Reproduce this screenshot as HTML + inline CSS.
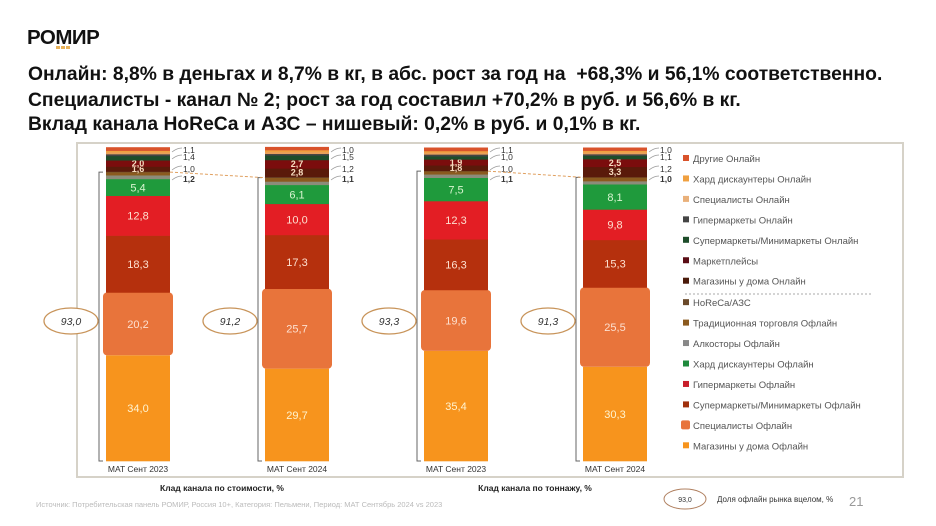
<!DOCTYPE html>
<html><head><meta charset="utf-8"><style>
body{margin:0;width:936px;height:526px;background:#fff;overflow:hidden;font-family:"Liberation Sans",sans-serif;position:relative}
.t{position:absolute;left:28px;font-weight:bold;font-size:19.3px;color:#111;white-space:nowrap}
</style></head><body>
<div style="position:absolute;left:27px;top:26px;font-weight:900;font-size:20.5px;letter-spacing:-0.5px;color:#111">РОМИР</div>
<div style="position:absolute;left:56px;top:46px;width:14px;height:3px;background:repeating-linear-gradient(90deg,#e8b25a 0 4px,transparent 4px 5px)"></div>
<div class="t" style="top:64px">Онлайн: 8,8% в деньгах и 8,7% в кг, в абс. рост за год на&nbsp; +68,3% и 56,1% соответственно.</div>
<div class="t" style="top:90px">Специалисты - канал № 2; рост за год составил +70,2% в руб. и 56,6% в кг.</div>
<div class="t" style="top:114px">Вклад канала HoReCa и АЗС – нишевый: 0,2% в руб. и 0,1% в кг.</div>
<svg id="s" width="936" height="526" style="position:absolute;left:0;top:0" font-family="Liberation Sans, sans-serif"></svg>
<script>
const S=document.getElementById('s');let h='';
h+='<rect x="77" y="143" width="826" height="334" fill="none" stroke="#d6d2c8" stroke-width="2"/>';
const cols=['#f7941d','#e8743b','#b5300d','#e31e24','#1f9a3c','#8c8c7a','#8b5a1e','#6b4a2a','#5a1a0a','#7b0d0d','#1d4d2a','#444','#e9a05a','#f0a040','#d9532b'];
const bars=[
{x:106,v:[34.0,20.2,18.3,12.8,5.4,1.2,1.0,0.2,1.6,2.0,1.4,0.6,0.6,0.5,1.1],off:'93,0',lab:['1,1','1,4','1,0','1,2'],yr:'2023'},
{x:265,v:[29.7,25.7,17.3,10.0,6.1,1.1,1.2,0.2,2.8,2.7,1.5,0.5,0.6,0.6,1.0],off:'91,2',lab:['1,0','1,5','1,2','1,1'],yr:'2024'},
{x:424,v:[35.4,19.6,16.3,12.3,7.5,1.1,1.0,0.1,1.8,1.9,1.0,0.6,0.6,0.5,1.1],off:'93,3',lab:['1,1','1,0','1,0','1,1'],yr:'2023'},
{x:583,v:[30.3,25.5,15.3,9.8,8.1,1.0,1.2,0.1,3.3,2.5,1.1,0.5,0.6,0.5,1.0],off:'91,3',lab:['1,0','1,1','1,2','1,0'],yr:'2024'}];
const k=3.11,B=461,W=64;
let offTops=[];
bars.forEach((b,bi)=>{let y=B;let tops=[];
 b.v.forEach((v,i)=>{const hh=v*k;y-=hh;tops.push(y);
  if(i==1)h+=`<rect x="${b.x-3}" y="${y}" width="${W+6}" height="${hh}" rx="4" fill="${cols[i]}"/>`;
  else h+=`<rect x="${b.x}" y="${y}" width="${W}" height="${hh+0.3}" fill="${cols[i]}"/>`;
  if(i<5){const tc=i==0?'#fff3d0':'#fde0d0';h+=`<text x="${b.x+W/2}" y="${y+hh/2+4}" font-size="11" fill="${i==4?'#d8f5d0':tc}" text-anchor="middle">${v.toFixed(1).replace('.',',')}</text>`;}
  if(i==8||i==9)h+=`<text x="${b.x+W/2}" y="${y+hh/2+3}" font-size="9" font-weight="bold" fill="#f7dcc0" text-anchor="middle">${v.toFixed(1).replace('.',',')}</text>`;
 });
 offTops.push(tops[6]);
 const ly=[152,159,171,181];
 b.lab.forEach((l,j)=>{h+=`<path d="M${b.x+W+2} ${ly[j]+ (j<2?0:-1)} q5 -4 ${10} -4" stroke="#999" fill="none" stroke-width="0.7"/><text x="${b.x+W+13}" y="${ly[j]+1}" font-size="8.5" ${j==3?'font-weight="bold"':''} fill="#333">${l}</text>`});
 h+=`<path d="M${b.x-3} ${tops[6]} h-4 V${B} h4" stroke="#666" fill="none" stroke-width="1"/>`;
 h+=`<ellipse cx="${b.x-35}" cy="321" rx="27" ry="13" fill="#fff" stroke="#c8945a" stroke-width="1.3"/><text x="${b.x-35}" y="325" font-size="10.5" fill="#333" text-anchor="middle" font-style="italic">${b.off}</text>`;
 h+=`<text x="${b.x+W/2}" y="472" font-size="8.5" fill="#333" text-anchor="middle">MAT Сент ${b.yr}</text>`;
});
h+=`<line x1="170" y1="${offTops[0]}" x2="265" y2="${offTops[1]}" stroke="#e0a060" stroke-dasharray="3,2"/>`;
h+=`<line x1="488" y1="${offTops[2]}" x2="583" y2="${offTops[3]}" stroke="#e0a060" stroke-dasharray="3,2"/>`;
const L=[['Другие Онлайн','#d9532b'],['Хард дискаунтеры Онлайн','#f0a040'],['Специалисты Онлайн','#e9b07a'],['Гипермаркеты Онлайн','#444'],['Супермаркеты/Минимаркеты Онлайн','#1d4d2a'],['Маркетплейсы','#5a0d15'],['Магазины у дома Онлайн','#4a1a0a'],['HoReCa/АЗС','#6b4a2a'],['Традиционная торговля Офлайн','#8b5a1e'],['Алкосторы Офлайн','#888'],['Хард дискаунтеры Офлайн','#1f8a3c'],['Гипермаркеты Офлайн','#c81e2a'],['Супермаркеты/Минимаркеты Офлайн','#a0300d'],['Специалисты Офлайн','#e8743b'],['Магазины у дома Офлайн','#f7941d']];
L.forEach((l,i)=>{const y=161+i*20.45+(i>=7?1:0);const s=i==13?9:6;h+=`<rect x="${i==13?681:683}" y="${y-s/2-3}" width="${s}" height="${s}" rx="${i==13?2:0}" fill="${l[1]}"/><text x="693" y="${y+1}" font-size="9.5" fill="#555">${l[0]}</text>`});
h+=`<line x1="685" y1="294" x2="872" y2="294" stroke="#aaa" stroke-dasharray="2,2"/>`;
h+=`<text x="222" y="491" font-size="8.5" font-weight="bold" fill="#222" text-anchor="middle">Клад канала по стоимости, %</text>`;
h+=`<text x="535" y="491" font-size="8.5" font-weight="bold" fill="#222" text-anchor="middle">Клад канала по тоннажу, %</text>`;
h+=`<text x="36" y="507" font-size="7.5" fill="#bbb">Источник: Потребительская панель РОМИР, Россия 10+, Категория: Пельмени, Период: МАТ Сентябрь 2024 vs 2023</text>`;
h+=`<ellipse cx="685" cy="499" rx="21" ry="10" fill="#fff" stroke="#b08060"/><text x="685" y="502" font-size="7" fill="#333" text-anchor="middle">93,0</text>`;
h+=`<text x="717" y="502" font-size="8" fill="#333">Доля офлайн рынка вцелом, %</text><text x="849" y="506" font-size="13" fill="#999">21</text>`;
S.innerHTML=h;
</script>
</body></html>
